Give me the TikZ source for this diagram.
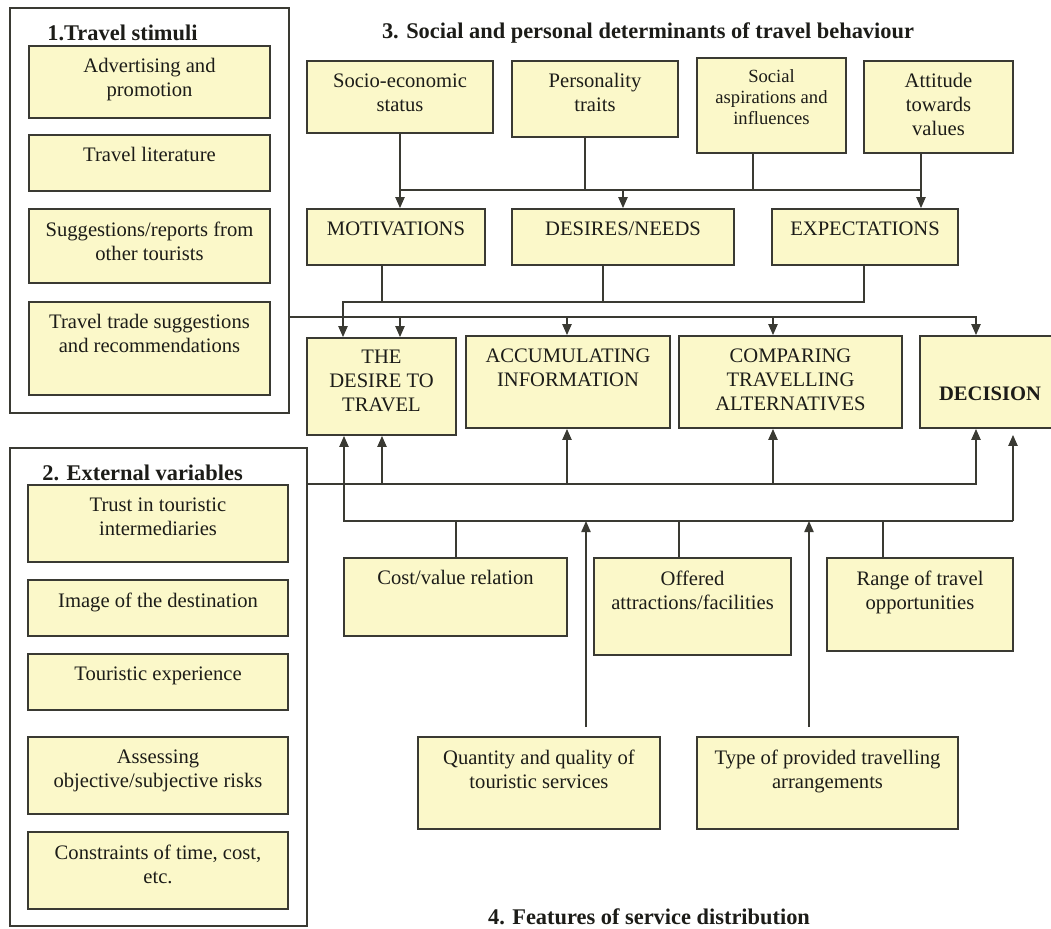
\documentclass[tikz,border=0pt]{standalone}
\usepackage{fontspec}
\setmainfont{Liberation Serif}
\usetikzlibrary{arrows.meta,fit}
\definecolor{boxfill}{HTML}{FBF8C9}
\definecolor{edge}{HTML}{3A3A33}
\definecolor{ink}{HTML}{1C1C18}
\tikzset{
  box/.style={draw=edge,fill=boxfill,line width=0.9pt,inner sep=0pt},
  panel/.style={draw=edge,line width=0.8pt,inner sep=0pt},
  txt/.style={anchor=north,align=center,inner sep=0pt,yshift=-6.5pt,text=ink,font=\fontsize{10.3}{12}\selectfont},
  head/.style={inner sep=0pt,text=ink,font=\bfseries\fontsize{11.2}{13}\selectfont},
  arr/.style={-{Triangle[length=5.5pt,width=4.6pt]}},
  wire/.style={draw=edge,line width=0.8pt}
}
\newcommand{\tbox}[4]{\node[box,fit={(#2) (#3)},label={[txt]north:#4}] (#1) {};}

\begin{document}
\begin{tikzpicture}[x=0.5pt,y=-0.5pt]
\useasboundingbox (0,0) rectangle (1051,928);

% 1. travel stimuli
\node[panel,fit={(10,8) (289,413)}] (stim) {};
\node[head,anchor=west] (stimT) at (47,33) {1.Travel stimuli};
\tbox{a1}{29,46}{270,118}{Advertising and\\promotion}
\tbox{a2}{29,135}{270,191}{Travel literature}
\tbox{a3}{29,209}{270,283}{Suggestions/reports from\\other tourists}
\tbox{a4}{29,302}{270,395}{Travel trade suggestions\\and recommendations}

% 2. external variables
\node[panel,fit={(10,448) (307,926)}] (ext) {};
\tbox{c1}{28,485}{288,562}{Trust in touristic\\intermediaries}
\tbox{c2}{28,580}{288,636}{Image of the destination}
\tbox{c3}{28,654}{288,710}{Touristic experience}
\tbox{c4}{28,737}{288,814}{Assessing\\objective/subjective risks}
\tbox{c5}{28,832}{288,909}{Constraints of time, cost,\\etc.}
\node[head,anchor=west] (extT) at (42,473) {2. External variables};

% 3. determinants
\node[head] (detT) at (648,33) {3. Social and personal determinants of travel behaviour};
\tbox{soc}{307,61}{493,133}{Socio-economic\\status}
\tbox{pers}{512,61}{678,137}{Personality\\traits}
\node[box,fit={(697,58) (846,153)},label={[txt,yshift=0.5pt,font=\fontsize{9.3}{10.6}\selectfont]north:Social\\aspirations and\\influences}] (asp) {};
\tbox{att}{864,61}{1013,153}{Attitude\\towards\\values}
\tbox{mot}{307,209}{485,265}{MOTIVATIONS}
\tbox{need}{512,209}{734,265}{DESIRES/NEEDS}
\tbox{exp}{772,209}{958,265}{EXPECTATIONS}

% process
\tbox{des}{307,338}{456,435}{THE\\DESIRE TO\\TRAVEL}
\tbox{acc}{466,336}{670,428}{ACCUMULATING\\INFORMATION}
\tbox{comp}{679,336}{902,428}{COMPARING\\TRAVELLING\\ALTERNATIVES}
\node[box,fit={(920,336) (1058,428)}] (dec) {};
\node[txt,anchor=center,yshift=0pt,font=\bfseries\fontsize{10.3}{12}\selectfont] (decT) at (990,381) {DECISION};

% 4. service distribution
\tbox{cost}{344,558}{567,636}{Cost/value relation}
\tbox{off}{594,558}{791,655}{Offered\\attractions/facilities}
\tbox{rng}{827,558}{1013,651}{Range of travel\\opportunities}
\tbox{qty}{418,737}{660,829}{Quantity and quality of\\touristic services}
\tbox{type}{697,737}{958,829}{Type of provided travelling\\arrangements}
\node[head] (serT) at (649,917) {4. Features of service distribution};

% bus points
\coordinate (u1) at (400,190); \coordinate (u2) at (585,190);
\coordinate (u3) at (623,190); \coordinate (u4) at (753,190);
\coordinate (u5) at (921,190);
\coordinate (v0) at (343,302); \coordinate (v1) at (382,302);
\coordinate (v2) at (603,302); \coordinate (v3) at (864,302);
\coordinate (w1) at (400,317); \coordinate (w2) at (567,317);
\coordinate (w3) at (773,317); \coordinate (w4) at (976,317);
\coordinate (x1) at (382,484); \coordinate (x2) at (567,484);
\coordinate (x3) at (773,484); \coordinate (x4) at (976,484);
\coordinate (z0) at (344,521); \coordinate (z1) at (456,521);
\coordinate (z2) at (586,521); \coordinate (z3) at (679,521);
\coordinate (z4) at (809,521); \coordinate (z5) at (883,521);
\coordinate (z6) at (1013,521);

\begin{scope}[wire]
\draw[arr] (u1 |- soc.south) -- (u1 |- mot.north);
\draw[arr] (u5 |- att.south) -- (u5 |- exp.north);
\draw (u1) -- (u5);
\draw (u2 |- pers.south) -- (u2);
\draw (u4 |- asp.south) -- (u4);
\draw[arr] (u3) -- (u3 |- need.north);

\draw (v1 |- mot.south) -- (v1);
\draw (v2 |- need.south) -- (v2);
\draw[arr] (v3 |- exp.south) -- (v3) -- (v0) -- (v0 |- des.north);

\draw[arr] (stim.east |- w1) -- (w4) -- (w4 |- dec.north);
\draw[arr] (w1) -- (w1 |- des.north);
\draw[arr] (w2) -- (w2 |- acc.north);
\draw[arr] (w3) -- (w3 |- comp.north);

\draw[arr] (ext.east |- x1) -- (x4) -- (x4 |- dec.south);
\draw[arr] (x1) -- (x1 |- des.south);
\draw[arr] (x2) -- (x2 |- acc.south);
\draw[arr] (x3) -- (x3 |- comp.south);

\draw[arr] (z6) -- (z0) -- (z0 |- des.south);
\draw[arr,shorten >=3pt] (z0 -| z6) -- (z6 |- dec.south);
\draw (z1 |- cost.north) -- (z1);
\draw (z3 |- off.north) -- (z3);
\draw (z5 |- rng.north) -- (z5);
\draw[arr,shorten <=4.5pt] (z2 |- qty.north) -- (z2);
\draw[arr,shorten <=4.5pt] (z4 |- type.north) -- (z4);
\end{scope}
\end{tikzpicture}
\end{document}
